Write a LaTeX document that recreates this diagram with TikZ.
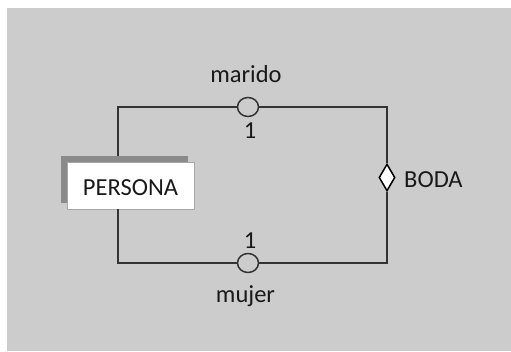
\documentclass[tikz,border=0pt]{standalone}
\usepackage{fontspec}
\setmainfont{Carlito}
\usetikzlibrary{shapes.geometric}
\definecolor{bggray}{HTML}{CCCCCC}
\definecolor{shadowgray}{HTML}{8A8A8A}
\definecolor{linegray}{HTML}{333333}
\definecolor{boxedge}{HTML}{A8A8A8}
\begin{document}
\begin{tikzpicture}[x=1pt,y=-1pt,
  conn/.style={draw=linegray,line width=1.5pt},
  lbl/.style={font=\fontsize{24.5}{28}\selectfont,text=black!90,inner sep=0pt,anchor=base},
  rolecirc/.style={ellipse,draw=linegray,line width=1.5pt,fill=bggray,minimum width=21pt,minimum height=19pt,inner sep=0pt},
  relshape/.style={diamond,draw=black,line width=1.5pt,fill=white,minimum width=16pt,minimum height=27pt,inner sep=0pt},
  entbox/.style={rectangle,draw=boxedge,line width=0.8pt,fill=white,minimum width=127pt,minimum height=47pt,inner sep=0pt},
  entshadow/.style={rectangle,fill=shadowgray,minimum width=127pt,minimum height=47pt,inner sep=0pt}]
\useasboundingbox (0,0) rectangle (511,351);
\fill[white] (0,0) rectangle (511,351);
\fill[bggray] (7,8) rectangle (511,351);
% corners
\coordinate (TL) at (118,107);
\coordinate (TR) at (387,107);
\coordinate (BL) at (118,263);
\coordinate (BR) at (387,263);
% entity
\node[entshadow] (pshadow) at (124.5,179.5) {};
\node[entbox] (persona) at (130.5,185.5) {};
\node[lbl] (personatxt) at (130.5,195) {PERSONA};
% role circles and relationship
\node[rolecirc] (rmarido) at (248,107) {};
\node[rolecirc] (rmujer) at (248,263) {};
\node[relshape] (boda) at (387,177.5) {};
% connectors
\draw[conn] (TL |- pshadow.north) -- (TL) -- (rmarido.west);
\draw[conn] (rmarido.east) -- (TR) -- (boda.north);
\draw[conn] (boda.south) -- (BR) -- (rmujer.east);
\draw[conn] (rmujer.west) -- (BL) -- (BL |- persona.south);
% labels
\node[lbl] (tmarido) at (246,82) {marido};
\node[lbl] (tone1) at (250,138) {1};
\node[lbl] (tone2) at (250,248) {1};
\node[lbl] (tmujer) at (245.5,302) {mujer};
\node[lbl,anchor=base west] (tboda) at (404,187) {BODA};
\end{tikzpicture}
\end{document}
